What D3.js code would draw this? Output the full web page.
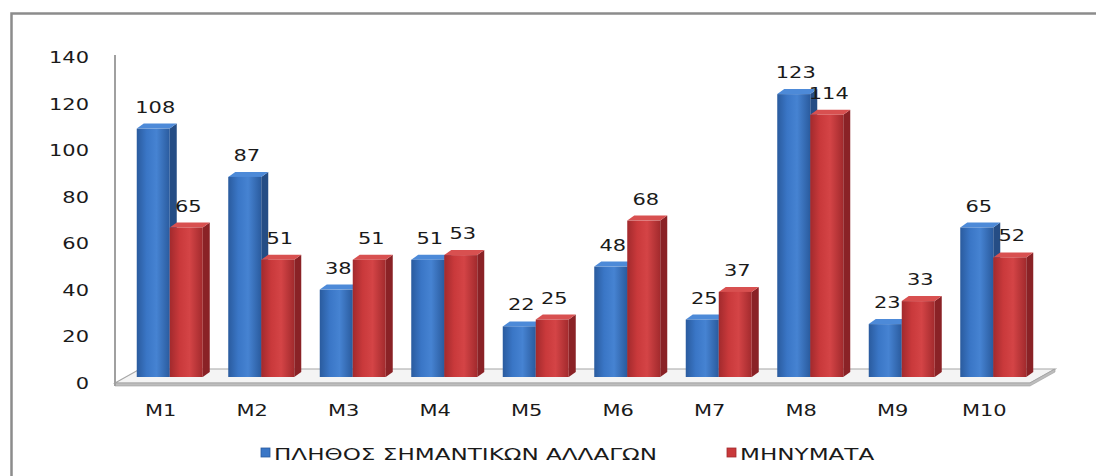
<!DOCTYPE html>
<html>
<head>
<meta charset="utf-8">
<script src="https://cdn.jsdelivr.net/npm/d3@7"></script>
<style>
  body { margin: 0; background: #fff; }
  text { font-family: "DejaVu Sans", Verdana, sans-serif; fill: #1a1a1a; }
</style>
</head>
<body>
<div id="chart"></div>
<script>
var categories = ["M1", "M2", "M3", "M4", "M5", "M6", "M7", "M8", "M9", "M10"];
var changes = [108, 87, 38, 51, 22, 48, 25, 123, 23, 65];
var messages = [65, 51, 51, 53, 25, 68, 37, 114, 33, 52];
var seriesNames = ["ΠΛΗΘΟΣ ΣΗΜΑΝΤΙΚΩΝ ΑΛΛΑΓΩΝ", "ΜΗΝΥΜΑΤΑ"];
var yTicks = [0, 20, 40, 60, 80, 100, 120, 140];

var W = 1096, H = 476,
    plotLeft = 115, plotRight = 1030,
    stretch = 1.27,
    barW = 33, barShift = 9,
    capX = 7, capY = 5,
    floorDx = 25, floorDy = 14;

var svg = d3.select("#chart").append("svg")
    .attr("width", W).attr("height", H);

var xScale = d3.scaleBand().domain(categories).range([plotLeft, plotRight]);
var yAxisScale = d3.scaleLinear().domain([0, 140]).range([383, 57]);
var yBar = d3.scaleLinear().domain([0, 140]).range([377, 55]);

var series = [
    {name: seriesNames[0], values: changes, front: "#3a76c6", light: "#4683d2", dark: "#2a5b9e", side: "#254d85", top: "#4d8ad8"},
    {name: seriesNames[1], values: messages, front: "#c9393b", light: "#d44446", dark: "#a22a2d", side: "#8a2226", top: "#d85050"}
];

// gradients for the bar fronts
var defs = svg.append("defs");
series.forEach(function(s, i) {
    var g = defs.append("linearGradient").attr("id", "grad" + i)
        .attr("x1", 0).attr("x2", 1).attr("y1", 0).attr("y2", 0);
    g.append("stop").attr("offset", "0%").attr("stop-color", s.dark);
    g.append("stop").attr("offset", "30%").attr("stop-color", s.front);
    g.append("stop").attr("offset", "60%").attr("stop-color", s.light);
    g.append("stop").attr("offset", "100%").attr("stop-color", s.dark);
});

function stretchedText(parent, x, y, str, anchor, size, sx) {
    return parent.append("text")
        .attr("transform", "translate(" + x + "," + y + ") scale(" + (sx || stretch) + ",1)")
        .attr("text-anchor", anchor)
        .style("font-size", size + "px")
        .text(str);
}

// outer frame (cut off at right and bottom)
svg.append("rect")
    .attr("x", 11.5).attr("y", 13.5)
    .attr("width", W).attr("height", H)
    .attr("fill", "none").attr("stroke", "#8c8c8c").attr("stroke-width", 2.5);

// floor
var fy = yAxisScale(0);
svg.append("path")
    .attr("d", "M" + plotLeft + "," + fy + " L" + (plotLeft + floorDx) + "," + (fy - floorDy) +
        " L" + (plotRight + floorDx) + "," + (fy - floorDy) + " L" + plotRight + "," + fy + "Z")
    .attr("fill", "#f4f4f4").attr("stroke", "#a6a6a6").attr("stroke-width", 1.2);
svg.append("path")
    .attr("d", "M" + plotLeft + "," + fy + " L" + plotRight + "," + fy + " L" + (plotRight + floorDx) + "," + (fy - floorDy) +
        " L" + (plotRight + floorDx) + "," + (fy - floorDy + 3) + " L" + plotRight + "," + (fy + 3) +
        " L" + plotLeft + "," + (fy + 3) + "Z")
    .attr("fill", "#bdbdbd").attr("stroke", "#a0a0a0").attr("stroke-width", 0.6);

// vertical axis line
svg.append("line")
    .attr("x1", plotLeft).attr("x2", plotLeft)
    .attr("y1", yAxisScale(140) - 2).attr("y2", fy + 3)
    .attr("stroke", "#a0a0a0").attr("stroke-width", 2);

// y tick labels
var yLab = svg.append("g");
yTicks.forEach(function(t) {
    stretchedText(yLab, 89, yAxisScale(t) + 6, t, "end", 16.5);
});

// bars
var barsG = svg.append("g");
categories.forEach(function(c, ci) {
    var cx = xScale(c) + xScale.bandwidth() / 2 + barShift;
    series.forEach(function(s, si) {
        var x = si === 0 ? cx - barW : cx;
        var yt = yBar(s.values[ci]), yb = yBar(0);
        var g = barsG.append("g");
        g.append("path")
            .attr("d", "M" + (x + barW) + "," + yt + " L" + (x + barW + capX) + "," + (yt - capY) +
                " L" + (x + barW + capX) + "," + (yb - capY) + " L" + (x + barW) + "," + yb + "Z")
            .attr("fill", s.side);
        g.append("path")
            .attr("d", "M" + x + "," + yt + " L" + (x + capX) + "," + (yt - capY) +
                " L" + (x + barW + capX) + "," + (yt - capY) + " L" + (x + barW) + "," + yt + "Z")
            .attr("fill", s.top);
        g.append("rect")
            .attr("x", x).attr("y", yt)
            .attr("width", barW).attr("height", yb - yt)
            .attr("fill", "url(#grad" + si + ")");
    });
});

// value labels
var labG = svg.append("g");
categories.forEach(function(c, ci) {
    var cx = xScale(c) + xScale.bandwidth() / 2 + barShift;
    series.forEach(function(s, si) {
        var x = si === 0 ? cx - barW : cx;
        stretchedText(labG, x + barW / 2 + 2, yBar(s.values[ci]) - 16, s.values[ci], "middle", 16.5);
    });
});

// category labels
var catG = svg.append("g");
categories.forEach(function(c) {
    stretchedText(catG, xScale(c) + xScale.bandwidth() / 2, 416, c, "middle", 16.5);
});

// legend
var legend = svg.append("g");
var legendX = [261, 727];
series.forEach(function(s, i) {
    legend.append("rect")
        .attr("x", legendX[i]).attr("y", 448)
        .attr("width", 9).attr("height", 9)
        .attr("fill", s.front).attr("stroke", s.dark).attr("stroke-width", 0.8);
    stretchedText(legend, legendX[i] + 13, 460, s.name, "start", 16.5, 1.4);
});
</script>
</body>
</html>
